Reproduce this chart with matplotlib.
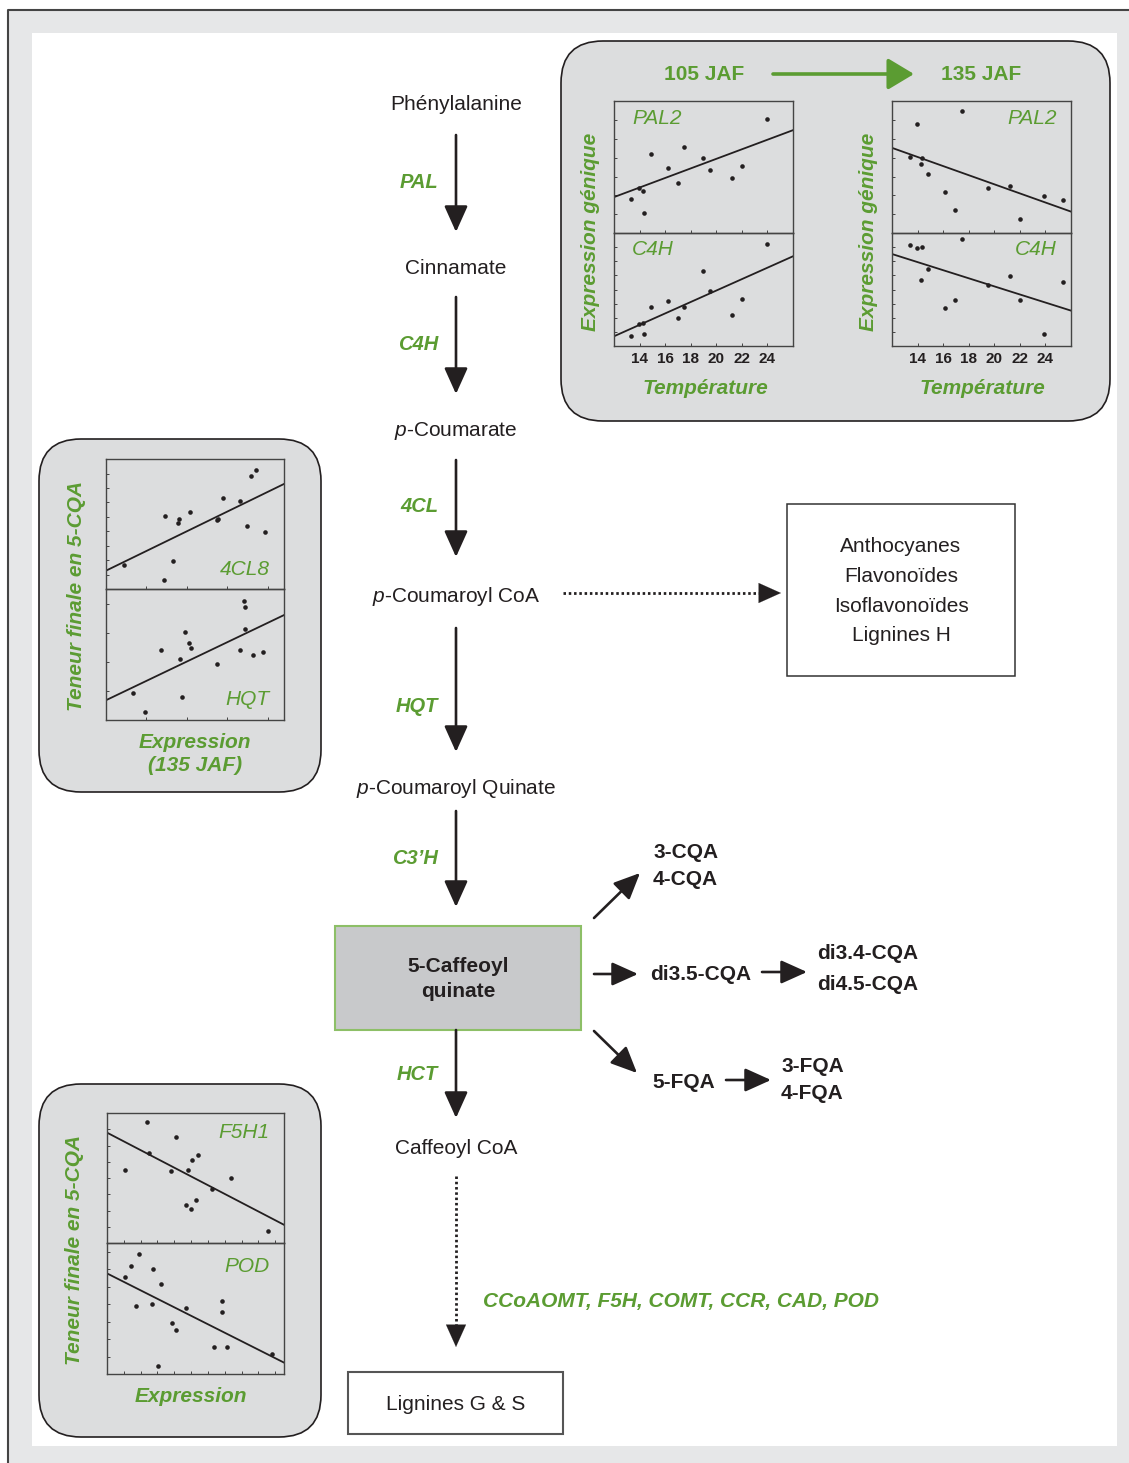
import matplotlib
matplotlib.use("Agg")
import matplotlib.pyplot as plt
from matplotlib.patches import FancyBboxPatch, Rectangle
from matplotlib.ticker import MultipleLocator, NullFormatter

plt.rcParams['font.family'] = ['Liberation Sans', 'DejaVu Sans']
plt.rcParams['mathtext.fontset'] = 'custom'
plt.rcParams['mathtext.rm'] = 'Liberation Sans'
plt.rcParams['mathtext.it'] = 'Liberation Sans:italic'

W, H = 1129, 1463
GREEN = '#5b9c32'
DARK = '#231f20'
PANEL = '#dcddde'

# --- scatter data (arbitrary y units 0-10) ---
temp_ticks = [14, 16, 18, 20, 22, 24]
temp_range = [12, 26]

temp_105 = [13.35, 13.96, 14.25, 14.36, 14.86, 16.2, 17.0, 17.5, 18.93, 19.51, 21.23, 22.04, 23.95]
pal2_105 = [2.54, 3.40, 3.15, 1.55, 6.02, 4.90, 3.81, 6.52, 5.71, 4.80, 4.19, 5.10, 8.65]
c4h_105 = [0.88, 1.98, 2.01, 1.03, 3.45, 4.01, 2.51, 3.45, 6.67, 4.84, 2.77, 4.16, 9.03]
pal2_105_fit = [2.72, 7.79]
c4h_105_fit = [0.86, 7.94]

temp_135 = [13.37, 13.93, 14.23, 14.33, 14.85, 16.13, 16.94, 17.47, 19.5, 21.2, 22.02, 23.92, 25.35]
pal2_135 = [5.79, 8.25, 5.20, 5.66, 4.44, 3.10, 1.78, 9.24, 3.40, 3.58, 1.07, 2.84, 2.51]
c4h_135 = [8.94, 8.67, 5.87, 8.73, 6.81, 3.36, 4.04, 9.44, 5.40, 6.19, 4.10, 1.06, 5.66]
pal2_135_fit = [6.45, 1.62]
c4h_135_fit = [8.14, 3.13]

expr_range = [0, 10]
expr_4cl8 = [1.01, 3.26, 3.30, 3.76, 4.04, 4.10, 4.72, 6.25, 6.31, 6.55, 7.51, 7.90, 8.15, 8.41, 8.93]
cqa_4cl8 = [1.84, 0.66, 5.58, 2.17, 5.06, 5.40, 5.91, 5.27, 5.40, 7.01, 6.78, 4.81, 8.70, 9.18, 4.35]
fit_4cl8 = [1.41, 8.08]
expr_hqt = [1.52, 2.17, 3.11, 4.16, 4.29, 4.46, 4.64, 4.79, 6.22, 7.51, 7.75, 7.81, 7.81, 8.24, 8.84]
cqa_hqt = [2.09, 0.59, 5.33, 4.69, 1.76, 6.71, 5.84, 5.51, 4.26, 5.33, 9.11, 8.60, 6.91, 4.95, 5.18]
fit_hqt = [1.51, 8.01]
expr_f5h1 = [1.03, 2.24, 2.35, 3.59, 3.89, 4.44, 4.55, 4.72, 4.81, 5.04, 5.15, 5.94, 6.99, 9.10]
cqa_f5h1 = [5.59, 9.31, 6.91, 5.51, 8.14, 2.93, 5.64, 2.65, 6.38, 3.32, 6.79, 4.18, 5.03, 0.92]
fit_f5h1 = [8.49, 1.40]
expr_pod = [1.03, 1.33, 1.80, 1.65, 2.56, 2.58, 3.03, 3.65, 3.89, 4.47, 6.02, 6.47, 6.50, 6.77, 9.32, 2.86]
cqa_pod = [7.42, 8.24, 9.16, 5.18, 5.36, 7.98, 6.86, 3.90, 3.39, 5.03, 2.04, 5.61, 4.77, 2.04, 1.53, 0.64]
fit_pod = [7.68, 0.87]

# --- pathway text ---
metabolites = ["Phénylalanine", "Cinnamate", "$p$-Coumarate", "$p$-Coumaroyl CoA",
               "$p$-Coumaroyl Quinate", "Caffeoyl CoA"]
enzymes = ["PAL", "C4H", "4CL", "HQT", "C3’H", "HCT"]
central = "5-Caffeoyl\nquinate"
side_products = ["Anthocyanes", "Flavonoïdes", "Isoflavonoïdes", "Lignines H"]
lignin_enzymes = "CCoAOMT, F5H, COMT, CCR, CAD, POD"
end_product = "Lignines G & S"
branch_cqa = "3-CQA\n4-CQA"
branch_di35 = "di3.5-CQA"
branch_di = "di3.4-CQA\ndi4.5-CQA"
branch_5fqa = "5-FQA"
branch_fqa = "3-FQA\n4-FQA"

# layout (pixels)
metab_y = [105, 269, 431, 597, 788, 1149]
enz_y = [183, 344, 507, 707, 858, 1074]
arrow_y = [(135, 232), (297, 394), (460, 557), (628, 752), (811, 907), (1030, 1118)]
CX = 456

fig = plt.figure(figsize=(W / 100, H / 100), dpi=100)
ax = fig.add_axes([0, 0, 1, 1])
ax.set_xlim(0, W)
ax.set_ylim(H, 0)
ax.axis('off')

# frame
ax.add_patch(Rectangle((8, 10), W - 8, H - 10, facecolor='#e6e7e8', edgecolor='none'))
ax.add_patch(Rectangle((32, 33), 1117 - 32, 1446 - 33, facecolor='white', edgecolor='none'))
ax.plot([8, 8, W], [H, 10, 10], color='#444444', lw=1.5, solid_capstyle='butt')


def arrow(x0, y0, x1, y1, color=DARK, lw=1.9, hl=1.0, hw=0.45, ms=16):
    ax.annotate("", xy=(x1, y1), xytext=(x0, y0),
                arrowprops=dict(arrowstyle=f"-|>,head_length={hl},head_width={hw}",
                                mutation_scale=ms, lw=lw, color=color,
                                shrinkA=0, shrinkB=0))


def dotted_arrow(x0, y0, x1, y1, head=20):
    dx, dy = x1 - x0, y1 - y0
    L = (dx ** 2 + dy ** 2) ** 0.5
    bx, by = x1 - dx / L * head, y1 - dy / L * head
    ax.plot([x0, bx], [y0, by], color=DARK, lw=2.0, linestyle=(0, (0.9, 1.0)))
    arrow(bx, by, x1, y1, lw=0.1)


# main pathway
for name, y in zip(metabolites, metab_y):
    ax.text(CX, y, name, ha='center', va='center', fontsize=15, color=DARK)
for name, y in zip(enzymes, enz_y):
    ax.text(438, y, name, ha='right', va='center', fontsize=14.5, color=GREEN,
            fontweight='bold', fontstyle='italic')
for y0, y1 in arrow_y:
    arrow(CX, y0, CX, y1)

# central compound box
ax.add_patch(Rectangle((335, 926), 246, 104, facecolor='#c8c9cb', edgecolor='#8dbf67', lw=1.5))
ax.text(458, 979, central, ha='center', va='center', fontsize=15, fontweight='bold',
        color=DARK, linespacing=1.45)

# side product box
dotted_arrow(563, 593, 781, 593)
ax.add_patch(Rectangle((787, 504), 228, 172, facecolor='white', edgecolor='#333333', lw=1.1))
for i, name in enumerate(side_products):
    ax.text(901, 547 + i * 29.5, name, ha='center', va='center', fontsize=15, color=DARK)

# lignin branch
dotted_arrow(CX, 1176, CX, 1347)
ax.text(483, 1301, lignin_enzymes, ha='left', va='center', fontsize=15, color=GREEN,
        fontweight='bold', fontstyle='italic')
ax.add_patch(Rectangle((348, 1372), 215, 62, facecolor='white', edgecolor='#555555', lw=1.5))
ax.text(456, 1404, end_product, ha='center', va='center', fontsize=15, color=DARK)

# CQA / FQA branches
bkw = dict(ha='left', va='center', fontsize=15, fontweight='bold', color=DARK)
arrow(594, 918, 640, 873)
ax.text(653, 866, branch_cqa, linespacing=1.5, **bkw)
arrow(594, 974, 638, 974)
ax.text(650, 974, branch_di35, **bkw)
arrow(762, 972, 807, 972)
ax.text(817, 969, branch_di, linespacing=1.8, **bkw)
arrow(594, 1031, 637, 1073)
ax.text(652, 1082, branch_5fqa, **bkw)
arrow(726, 1080, 771, 1080)
ax.text(781, 1080, branch_fqa, linespacing=1.5, **bkw)

# rounded grey panels
for (x0, y0, x1, y1) in [(561, 41, 1110, 421), (39, 439, 321, 792), (39, 1084, 321, 1437)]:
    ax.add_patch(FancyBboxPatch((x0, y0), x1 - x0, y1 - y0,
                                boxstyle="round,pad=0,rounding_size=42",
                                facecolor=PANEL, edgecolor=DARK, lw=1.2))

# top panel headings
hkw = dict(ha='center', va='center', fontsize=15, fontweight='bold', color=GREEN)
ax.text(704, 75, "105 JAF", **hkw)
ax.text(981, 75, "135 JAF", **hkw)
arrow(773, 74, 914, 74, color=GREEN, lw=2.6, hl=1.0, hw=0.6, ms=16)

lkw = dict(ha='center', va='center', fontsize=15, fontweight='bold', fontstyle='italic', color=GREEN)
for x in (705, 982):
    ax.text(x, 389, "Température", **lkw)
for x in (591, 868):
    ax.text(x, 232, "Expression génique", rotation=90, **lkw)
ax.text(76, 596, "Teneur finale en 5-CQA", rotation=90, **lkw)
ax.text(195, 754, "Expression\n(135 JAF)", linespacing=1.3, **lkw)
ax.text(74, 1250, "Teneur finale en 5-CQA", rotation=90, **lkw)
ax.text(191, 1397, "Expression", **lkw)


def inset(box, xs, ys, fit, xlim, xstep, ystep, name, nx, ny, ha, ticklabels=False):
    x0, y0, x1, y1 = box
    a = fig.add_axes([x0 / W, 1 - y1 / H, (x1 - x0) / W, (y1 - y0) / H])
    a.set_facecolor('none')
    a.plot(xs, ys, 'o', color=DARK, ms=3.3, mec='none')
    a.plot(xlim, fit, color=DARK, lw=1.3)
    a.set_xlim(xlim)
    a.set_ylim(0, 10)
    a.xaxis.set_major_locator(MultipleLocator(xstep))
    a.yaxis.set_major_locator(MultipleLocator(ystep))
    a.tick_params(direction='in', length=2.5, width=0.7, colors='#444444',
                  labelsize=11, pad=4)
    a.yaxis.set_major_formatter(NullFormatter())
    if ticklabels:
        a.set_xticks(temp_ticks)
        a.set_xticklabels([str(t) for t in temp_ticks], fontweight='bold', color=DARK)
        a.tick_params(axis='x', labelcolor=DARK)
    else:
        a.xaxis.set_major_formatter(NullFormatter())
    for s in a.spines.values():
        s.set_color('#444444')
        s.set_linewidth(1.0)
    a.text(nx, ny, name, transform=a.transAxes, ha=ha, va='center', fontsize=15,
           fontstyle='italic', color=GREEN)
    return a


inset((614, 101, 793, 233), temp_105, pal2_105, pal2_105_fit, temp_range, 2, 1.425, "PAL2", 0.10, 0.87, 'left')
inset((614, 233, 793, 346), temp_105, c4h_105, c4h_105_fit, temp_range, 2, 1.25, "C4H", 0.10, 0.85, 'left', True)
inset((892, 101, 1071, 233), temp_135, pal2_135, pal2_135_fit, temp_range, 2, 1.425, "PAL2", 0.92, 0.87, 'right')
inset((892, 233, 1071, 346), temp_135, c4h_135, c4h_135_fit, temp_range, 2, 1.25, "C4H", 0.92, 0.85, 'right', True)

inset((106, 459, 284, 589), expr_4cl8, cqa_4cl8, fit_4cl8, expr_range, 2.27, 1.11, "4CL8", 0.92, 0.15, 'right')
inset((106, 589, 284, 720), expr_hqt, cqa_hqt, fit_hqt, expr_range, 2.27, 2.22, "HQT", 0.92, 0.16, 'right')
inset((107, 1113, 284, 1243), expr_f5h1, cqa_f5h1, fit_f5h1, expr_range, 0.95, 1.25, "F5H1", 0.92, 0.85, 'right')
inset((107, 1243, 284, 1374), expr_pod, cqa_pod, fit_pod, expr_range, 0.95, 1.33, "POD", 0.92, 0.82, 'right')

fig.savefig("out.png", dpi=100)
